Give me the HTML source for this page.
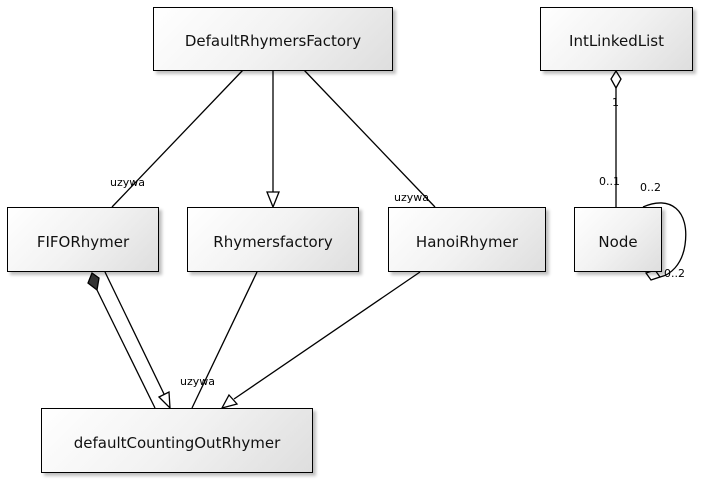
<!DOCTYPE html>
<html><head><style>
body{margin:0;width:704px;height:480px;background:#fff;position:relative;overflow:hidden;font-family:"DejaVu Sans","Liberation Sans",sans-serif}
.b{position:absolute;box-sizing:border-box;border:1px solid #000;background:linear-gradient(135deg,#fff 0%,#f2f2f2 50%,#dedede 100%);box-shadow:3px 3px 3px rgba(0,0,0,.25);display:flex;align-items:center;justify-content:center;font-size:15px;color:#111;padding-top:4px}
svg{position:absolute;left:0;top:0}
</style></head><body>
<svg width="704" height="480" font-family="DejaVu Sans, sans-serif" font-size="11">
<g stroke="#000" stroke-width="1.3" fill="none">
<line x1="243" y1="70" x2="112" y2="207"/>
<line x1="273" y1="70" x2="273" y2="192"/>
<polygon points="267,192 279,192 273,207" fill="#fff"/>
<line x1="304" y1="70" x2="435" y2="207"/>
<line x1="97" y1="290" x2="155" y2="408"/>
<polygon points="92,273 99,278 97,290 88,283" fill="#333"/>
<line x1="105" y1="272" x2="164" y2="394"/>
<polygon points="159,397 169,392 170,408" fill="#fff"/>
<line x1="257" y1="272" x2="192" y2="408"/>
<line x1="420" y1="272" x2="234" y2="399"/>
<polygon points="229,395 237,404 222,408" fill="#fff"/>
<line x1="616" y1="88" x2="616" y2="207"/>
<polygon points="616,71 621,79 616,88 611,79" fill="#fff"/>
<path d="M643,207 C670,195 690,210 685,245 C682,265 670,275 660,277"/>
<polygon points="646,273 655,270 660,277 651,280" fill="#fff"/>
</g>
<g fill="#000">
<text x="110" y="186">uzywa</text>
<text x="394" y="201">uzywa</text>
<text x="180" y="385">uzywa</text>
<text x="612" y="106">1</text>
<text x="599" y="185">0..1</text>
<text x="640" y="191">0..2</text>
<text x="664" y="277">0..2</text>
</g>
</svg>
<div class="b" style="left:153px;top:7px;width:240px;height:64px">DefaultRhymersFactory</div>
<div class="b" style="left:540px;top:7px;width:153px;height:64px">IntLinkedList</div>
<div class="b" style="left:7px;top:207px;width:152px;height:65px">FIFORhymer</div>
<div class="b" style="left:187px;top:207px;width:172px;height:65px">Rhymersfactory</div>
<div class="b" style="left:388px;top:207px;width:158px;height:65px">HanoiRhymer</div>
<div class="b" style="left:574px;top:207px;width:88px;height:65px">Node</div>
<div class="b" style="left:41px;top:408px;width:272px;height:65px">defaultCountingOutRhymer</div>
</body></html>
